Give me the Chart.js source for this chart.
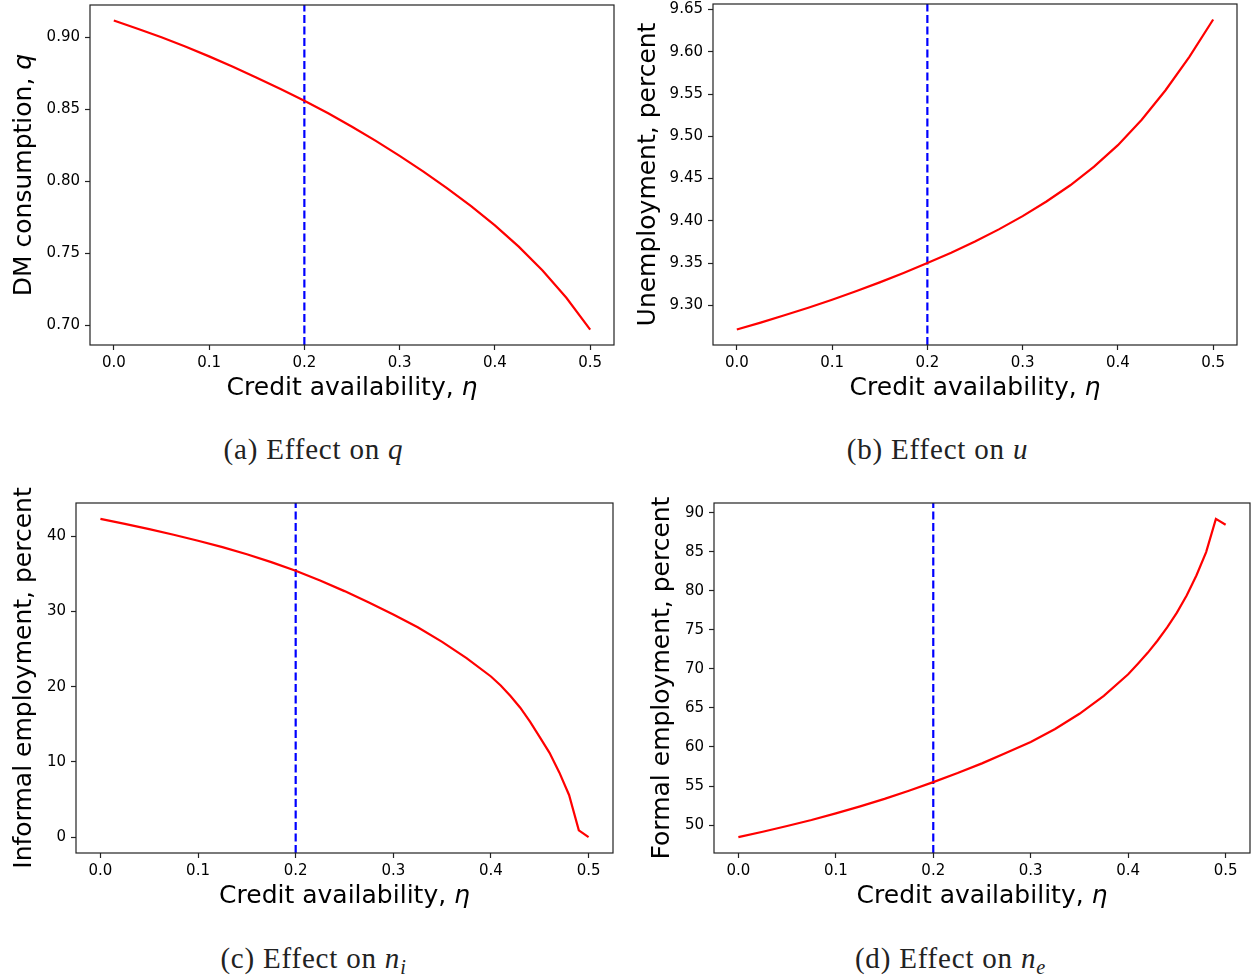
<!DOCTYPE html>
<html lang="en">
<head>
<meta charset="UTF-8">
<title>Effect of credit availability</title>
<script src="https://cdn.jsdelivr.net/npm/chart.js@4.4.1/dist/chart.umd.min.js"></script>
<style>
  body { margin: 0; background: #fff; width: 1254px; height: 976px; position: relative; overflow: hidden; }
  canvas { position: absolute; }
  .caption { position: absolute; width: 627px; text-align: center; font-family: 'Liberation Serif', serif;
             font-size: 29px; letter-spacing: 0.8px; line-height: 34px; color: #222; }
  .caption sub { font-size: 70%; vertical-align: -0.3em; line-height: 0; }
</style>
</head>
<body>

<canvas id="chartQ" width="627" height="420" style="left:0;top:0"></canvas>
<canvas id="chartU" width="627" height="420" style="left:627px;top:0"></canvas>
<canvas id="chartNi" width="627" height="450" style="left:0;top:470px"></canvas>
<canvas id="chartNe" width="627" height="450" style="left:627px;top:470px"></canvas>

<div class="caption" style="left:0;top:432px">(a) Effect on <i>q</i></div>
<div class="caption" style="left:624px;top:432px">(b) Effect on <i>u</i></div>
<div class="caption" style="left:0;top:941px">(c) Effect on <i>n</i><sub><i>i</i></sub></div>
<div class="caption" style="left:637px;top:941px">(d) Effect on <i>n</i><sub><i>e</i></sub></div>

<script>
// credit availability grid (eta) and values
const etaCoarse = [0, 0.025, 0.05, 0.075, 0.1, 0.125, 0.15, 0.175, 0.2, 0.225, 0.25,
                   0.275, 0.3, 0.325, 0.35, 0.375, 0.4, 0.425, 0.45, 0.475, 0.5];
const qVals = [0.9115, 0.9058, 0.8998, 0.8934, 0.8866, 0.8794, 0.8717, 0.8639, 0.8558, 0.8471, 0.8378,
               0.8280, 0.8176, 0.8067, 0.7951, 0.7827, 0.7694, 0.7547, 0.7382, 0.7192, 0.6972];
const uVals = [9.2713, 9.2795, 9.2881, 9.2971, 9.3066, 9.3166, 9.3271, 9.3382, 9.3499, 9.3622, 9.3754,
               9.3898, 9.4055, 9.4228, 9.4420, 9.4640, 9.4895, 9.5195, 9.5545, 9.5940, 9.6382];

const etaFine = [0, 0.025, 0.05, 0.075, 0.1, 0.125, 0.15, 0.175, 0.2, 0.225, 0.25, 0.275, 0.3,
                 0.325, 0.35, 0.375, 0.4, 0.41, 0.42, 0.43, 0.44, 0.45, 0.46, 0.47, 0.48, 0.49, 0.5];
const niVals = [42.3, 41.65, 40.95, 40.2, 39.4, 38.55, 37.6, 36.55, 35.4, 34.1, 32.7, 31.2, 29.6,
                27.9, 25.95, 23.8, 21.35, 20.15, 18.75, 17.2, 15.35, 13.3, 11.2, 8.6, 5.6, 0.9, 0.0];
const neVals = [48.46, 49.15, 49.88, 50.65, 51.5, 52.4, 53.35, 54.4, 55.5, 56.66, 57.9, 59.25, 60.65,
                62.3, 64.25, 66.55, 69.3, 70.65, 72.05, 73.6, 75.3, 77.2, 79.4, 81.95, 84.95, 89.2, 88.45];

// tick labels
const etaTicks = [0, 0.1, 0.2, 0.3, 0.4, 0.5];
const qTicks = [0.70, 0.75, 0.80, 0.85, 0.90];
const uTicks = [9.30, 9.35, 9.40, 9.45, 9.50, 9.55, 9.60, 9.65];
const niTicks = [0, 10, 20, 30, 40];
const neTicks = [50, 55, 60, 65, 70, 75, 80, 85, 90];

// calibrated value of eta (dashed line)
const etaMarker = 0.2;

function drawMixed(ctx, parts, cx, cy) {
    const fonts = parts.map(p => (p[1] ? 'italic ' : '') + '25px "DejaVu Sans"');
    const widths = parts.map((p, i) => { ctx.font = fonts[i]; return ctx.measureText(p[0]).width; });
    let x = cx - widths.reduce((s, w) => s + w, 0) / 2;
    ctx.textAlign = 'left';
    parts.forEach((p, i) => { ctx.font = fonts[i]; ctx.fillText(p[0], x, cy); x += widths[i]; });
}

// box around the plot + axis titles (with italic math letters)
const frameAndTitles = {
    id: 'frameAndTitles',
    afterDraw(chart, args, opts) {
        const { ctx, chartArea: a } = chart;
        ctx.save();
        ctx.strokeStyle = '#222';
        ctx.lineWidth = 1.2;
        ctx.strokeRect(a.left, a.top, a.right - a.left, a.bottom - a.top);
        ctx.fillStyle = '#000';
        ctx.textBaseline = 'middle';
        drawMixed(ctx, opts.xTitle, (a.left + a.right) / 2, a.bottom + opts.xGap);
        ctx.translate(a.left - opts.yGap, (a.top + a.bottom) / 2);
        ctx.rotate(-Math.PI / 2);
        drawMixed(ctx, opts.yTitle, 0, 0);
        ctx.restore();
    }
};

function noPad(s) {
    s.paddingTop = 0; s.paddingBottom = 0; s.paddingLeft = 0; s.paddingRight = 0;
}

function plotar(id, xs, ys, yTicks, decimals, canvasRect, box, yTitle, yGap) {
    const yMin = Math.min(...ys), yMax = Math.max(...ys);
    const lo = yMin - 0.05 * (yMax - yMin), hi = yMax + 0.05 * (yMax - yMin);
    const tickFont = { family: 'DejaVu Sans', size: 15 };
    const gridOpts = { drawOnChartArea: false, drawTicks: true, tickLength: 5, tickColor: '#222', tickWidth: 1.2 };

    new Chart(document.getElementById(id), {
        type: 'line',
        data: {
            datasets: [{
                data: xs.map((x, i) => ({ x: x, y: ys[i] })),
                borderColor: '#ff0000',
                borderWidth: 2.2,
                pointRadius: 0,
                tension: 0
            }, {
                data: [{ x: etaMarker, y: lo }, { x: etaMarker, y: hi }],
                borderColor: '#0000ff',
                borderWidth: 2.2,
                borderDash: [8, 3.5],
                pointRadius: 0
            }]
        },
        options: {
            responsive: false,
            animation: false,
            maintainAspectRatio: false,
            layout: {
                padding: { left: 0, top: box.t - canvasRect.y, right: canvasRect.x + canvasRect.w - box.r, bottom: 0 }
            },
            plugins: {
                legend: { display: false },
                tooltip: { enabled: false },
                frameAndTitles: {
                    xTitle: [['Credit availability, ', false], ['\u03b7', true]],
                    yTitle: yTitle,
                    xGap: 43,
                    yGap: yGap
                }
            },
            scales: {
                x: {
                    type: 'linear',
                    min: -0.025,
                    max: 0.525,
                    afterBuildTicks: s => { s.ticks = etaTicks.map(v => ({ value: v })); },
                    afterFit: s => { s.height = canvasRect.y + canvasRect.h - box.b; noPad(s); },
                    ticks: { callback: v => v.toFixed(1), font: tickFont, color: '#000', padding: 4, maxRotation: 0, autoSkip: false },
                    grid: gridOpts,
                    border: { display: false }
                },
                y: {
                    type: 'linear',
                    min: lo,
                    max: hi,
                    afterBuildTicks: s => { s.ticks = yTicks.map(v => ({ value: v })); },
                    afterFit: s => { s.width = box.l - canvasRect.x; noPad(s); },
                    ticks: { callback: v => v.toFixed(decimals), font: tickFont, color: '#000', padding: 5, autoSkip: false },
                    grid: gridOpts,
                    border: { display: false }
                }
            }
        },
        plugins: [frameAndTitles]
    });
}

plotar('chartQ', etaCoarse, qVals, qTicks, 2,
    { x: 0, y: 0, w: 627, h: 420 }, { l: 90, t: 5, r: 614, b: 345 },
    [['DM consumption, ', false], ['q', true]], 66);

plotar('chartU', etaCoarse, uVals, uTicks, 2,
    { x: 627, y: 0, w: 627, h: 420 }, { l: 713, t: 4, r: 1237, b: 345 },
    [['Unemployment, percent', false]], 65);

plotar('chartNi', etaFine, niVals, niTicks, 0,
    { x: 0, y: 470, w: 627, h: 450 }, { l: 76, t: 503, r: 613, b: 853 },
    [['Informal employment, percent', false]], 52);

plotar('chartNe', etaFine, neVals, neTicks, 0,
    { x: 627, y: 470, w: 627, h: 450 }, { l: 714, t: 503, r: 1250, b: 853 },
    [['Formal employment, percent', false]], 52);
</script>

</body>
</html>
